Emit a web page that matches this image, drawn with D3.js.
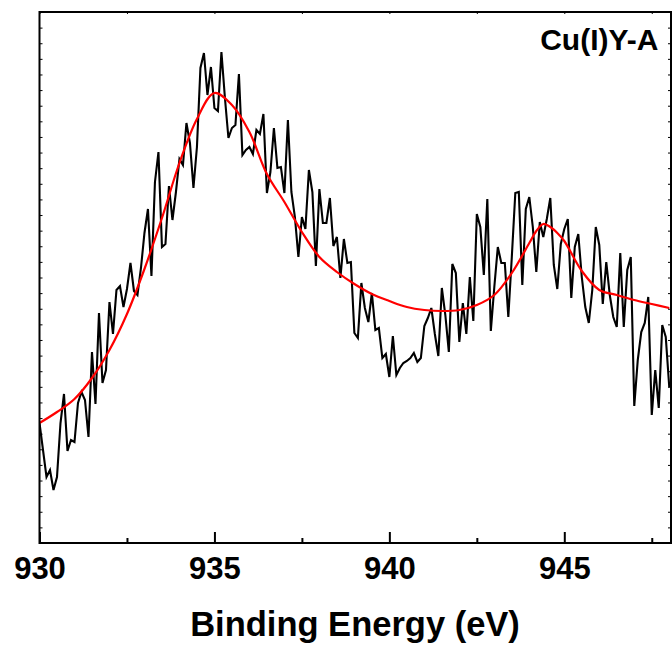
<!DOCTYPE html>
<html>
<head>
<meta charset="utf-8">
<script src="https://cdn.jsdelivr.net/npm/d3@7"></script>
<style>
  html, body { margin: 0; padding: 0; background: #fff; }
  svg { display: block; }
  text { font-family: "Liberation Sans", Arial, Helvetica, sans-serif; font-weight: bold; fill: #000; }
</style>
</head>
<body>
<div id="chart"></div>
<script>
const width = 672;
const height = 646;

// spectrum: 930.0 .. 948.0 eV, 0.1 eV step, intensity in a.u.
const energyStart = 930;
const energyStep = 0.1;
const counts = [
  120, 93, 66, 73, 53, 66, 120, 149, 92, 103,
  101, 140, 151, 143, 106, 191, 139, 230, 160, 173,
  241, 209, 253, 257, 236, 254, 280, 252, 248, 275,
  310, 334, 267, 361, 391, 296, 299, 357, 323, 351,
  384, 378, 420, 400, 355, 396, 475, 490, 448, 476,
  435, 432, 491, 445, 405, 415, 418, 469, 388, 393,
  396, 389, 413, 409, 429, 350, 371, 415, 375, 376,
  350, 423, 351, 326, 286, 326, 314, 373, 351, 277,
  354, 320, 320, 345, 297, 306, 265, 304, 280, 281,
  210, 205, 260, 235, 221, 250, 213, 215, 185, 189,
  166, 207, 168, 175, 180, 182, 185, 190, 181, 185,
  217, 225, 235, 209, 187, 255, 228, 191, 279, 270,
  201, 240, 209, 266, 222, 329, 316, 268, 344, 212,
  256, 296, 280, 280, 226, 286, 350, 351, 258, 334,
  346, 316, 271, 321, 306, 324, 345, 278, 254, 299,
  314, 324, 245, 296, 309, 266, 236, 220, 253, 316,
  298, 239, 281, 248, 226, 216, 290, 216, 273, 286,
  137, 183, 211, 220, 246, 128, 173, 135, 218, 206,
  156
];

// fitted envelope (red)
const fitEnergy = [
  930.0, 930.5, 931.0, 931.5, 932.0, 932.5, 933.0, 933.5, 934.0, 934.5,
  935.0, 935.5, 936.0, 936.5, 937.0, 937.5, 938.0, 938.5, 939.0, 939.5,
  940.0, 940.5, 941.0, 941.5, 942.0, 942.5, 943.0, 943.5, 944.0, 944.2,
  944.4, 944.6, 944.8, 945.0, 945.5, 946.0, 946.5, 947.0, 947.5, 948.0
];
const fitCounts = [
  120, 131, 144, 165, 193, 229, 274, 325, 380, 424,
  450, 438, 411, 369, 341, 311, 286, 271, 259, 249,
  242, 236, 233, 232, 233, 238, 248, 270, 300, 312,
  319, 316, 310, 302, 272, 253, 248, 243, 239, 235
];

const majorTicks = [930, 935, 940, 945];
const minorTicks = [932.5, 937.5, 942.5, 947.5];
const label = "Cu(I)Y-A";

const margin = { left: 39.5, right: 671, top: 12, bottom: 543 };

const x = d3.scaleLinear().domain([930, 948.05]).range([margin.left, margin.right]);
const y = d3.scaleLinear().domain([0, 531]).range([margin.bottom, margin.top]);

const svg = d3.select("#chart")
    .append("svg")
    .attr("width", width)
    .attr("height", height);

svg.append("defs").append("clipPath")
    .attr("id", "plot-clip")
    .append("rect")
    .attr("x", margin.left)
    .attr("y", margin.top)
    .attr("width", margin.right - margin.left)
    .attr("height", margin.bottom - margin.top);

const spectrum = counts.map((c, i) => ({ e: energyStart + i * energyStep, c }));
const fit = fitEnergy.map((e, i) => ({ e, c: fitCounts[i] }));

const plot = svg.append("g").attr("clip-path", "url(#plot-clip)");

plot.append("path")
    .datum(spectrum)
    .attr("fill", "none")
    .attr("stroke", "#000")
    .attr("stroke-width", 2.1)
    .attr("stroke-linejoin", "miter")
    .attr("d", d3.line().x(d => x(d.e)).y(d => y(d.c)));

plot.append("path")
    .datum(fit)
    .attr("fill", "none")
    .attr("stroke", "#ff0000")
    .attr("stroke-width", 2.2)
    .attr("d", d3.line().curve(d3.curveCatmullRom).x(d => x(d.e)).y(d => y(d.c)));

// y ticks (no labels) on both sides
const yTicks = d3.range(0, 35).map(i => i * 531 / 34);

svg.append("g")
    .attr("transform", `translate(${margin.left},0)`)
    .call(d3.axisLeft(y).tickValues(yTicks).tickSizeInner(-3).tickSizeOuter(0).tickFormat(""))
    .call(g => g.select(".domain").remove());

svg.append("g")
    .attr("transform", `translate(${margin.right},0)`)
    .call(d3.axisRight(y).tickValues(yTicks).tickSizeInner(-3).tickSizeOuter(0).tickFormat(""))
    .call(g => g.select(".domain").remove());

// bottom axis: major + minor, inward
const bottom = svg.append("g").attr("transform", `translate(0,${margin.bottom})`);
bottom.append("g")
    .call(d3.axisBottom(x).tickValues(majorTicks).tickSizeInner(-11).tickSizeOuter(0).tickFormat(d3.format("d")))
    .call(g => g.select(".domain").remove())
    .call(g => g.selectAll("line").attr("stroke-width", 2))
    .call(g => g.selectAll("text").attr("font-size", 31).attr("dy", 0).attr("y", 36));
bottom.append("g")
    .call(d3.axisBottom(x).tickValues(minorTicks).tickSizeInner(-5).tickSizeOuter(0).tickFormat(""))
    .call(g => g.select(".domain").remove())
    .call(g => g.selectAll("line").attr("stroke-width", 2));

// top axis: small inward ticks
svg.append("g")
    .attr("transform", `translate(0,${margin.top})`)
    .call(d3.axisTop(x).tickValues(majorTicks.concat(minorTicks)).tickSizeInner(-2).tickSizeOuter(0).tickFormat(""))
    .call(g => g.select(".domain").remove());

svg.selectAll(".tick line").attr("stroke", "#000");

// frame
svg.append("rect")
    .attr("x", margin.left)
    .attr("y", margin.top)
    .attr("width", margin.right - margin.left)
    .attr("height", margin.bottom - margin.top)
    .attr("fill", "none")
    .attr("stroke", "#000")
    .attr("stroke-width", 2);

svg.append("text")
    .attr("x", 355)
    .attr("y", 636)
    .attr("text-anchor", "middle")
    .attr("font-size", 34.5)
    .text("Binding Energy (eV)");

svg.append("text")
    .attr("x", 658.5)
    .attr("y", 50)
    .attr("text-anchor", "end")
    .attr("font-size", 30)
    .text(label);
</script>
</body>
</html>
